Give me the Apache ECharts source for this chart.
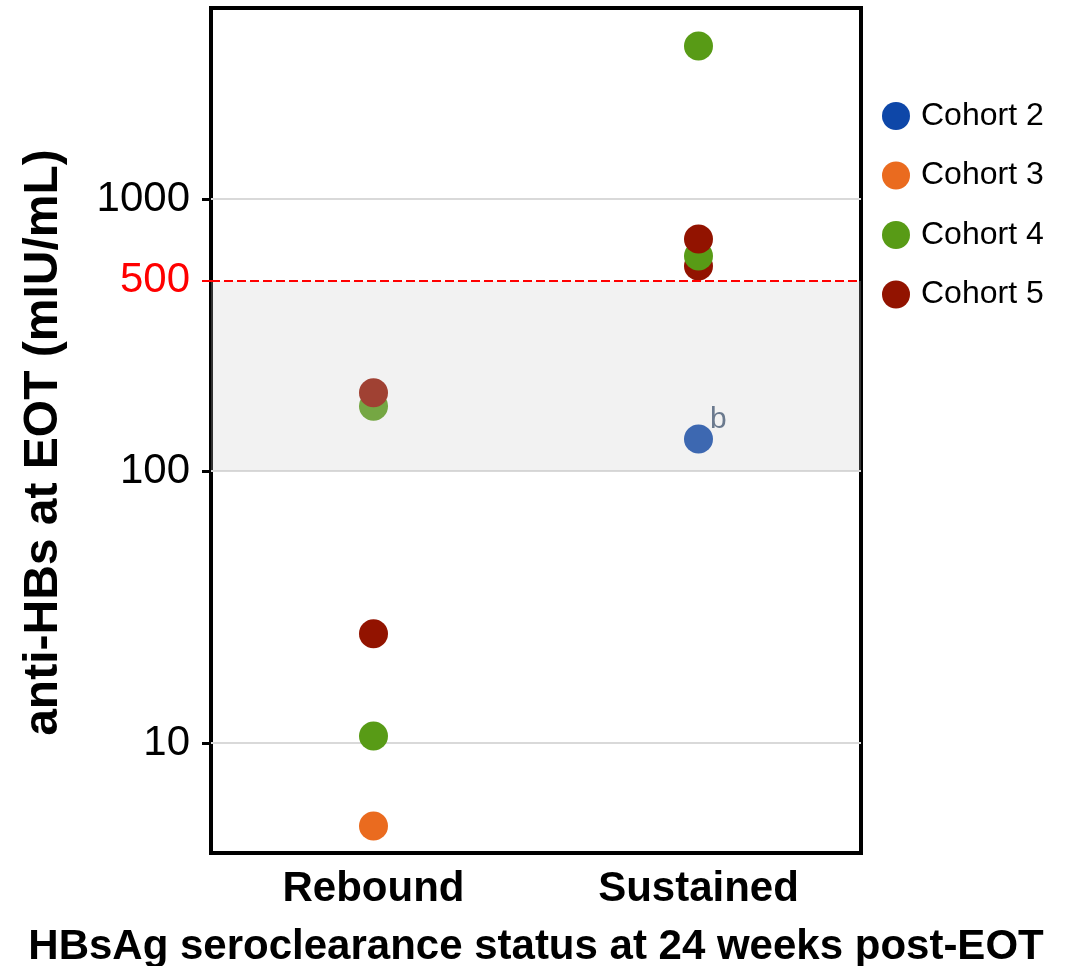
<!DOCTYPE html>
<html>
<head>
<meta charset="utf-8">
<title>anti-HBs at EOT</title>
<script src="https://cdn.jsdelivr.net/npm/echarts@6/dist/echarts.min.js"></script>
<style>
  html, body { margin: 0; padding: 0; background: #fff; }
  #chart { width: 1076px; height: 966px; }
</style>
</head>
<body>
<div id="chart"></div>
<script>
// categories and cohorts
const statuses = ['Rebound', 'Sustained']
const cohorts = ['Cohort 2', 'Cohort 3', 'Cohort 4', 'Cohort 5']
const cohortColors = ['#0e47a8', '#ea6b1f', '#589b16', '#921300']

// one entry per participant, in drawing order
const pointCohort = ['Cohort 4', 'Cohort 4', 'Cohort 3', 'Cohort 5', 'Cohort 4', 'Cohort 4', 'Cohort 2', 'Cohort 5', 'Cohort 5', 'Cohort 5']
const pointStatus = ['Rebound', 'Rebound', 'Rebound', 'Sustained', 'Sustained', 'Sustained', 'Sustained', 'Rebound', 'Rebound', 'Sustained']
const pointValue = [173, 10.6, 4.95, 567, 3650, 617, 131, 194, 25.2, 713]
const pointNote = ['', '', '', '', '', '', 'b', '', '', '']

// y axis ticks and reference band
const yTicks = [10, 100, 1000]
const threshold = 500
const bandLow = 100

const font = 'Liberation Sans, Arial, Helvetica, sans-serif'

const chart = echarts.init(document.getElementById('chart'))

const pointData = pointValue.map((v, i) => {
  const item = {
    value: [pointStatus[i], v],
    itemStyle: { color: cohortColors[cohorts.indexOf(pointCohort[i])], opacity: 1 }
  }
  if (pointNote[i]) {
    item.label = {
      show: true,
      formatter: pointNote[i],
      position: [26, -20],
      align: 'left',
      verticalAlign: 'top',
      color: '#4b5f7a',
      fontSize: 30,
      fontFamily: font
    }
  }
  return item
})

const yBase = {
  type: 'log',
  logBase: 10,
  min: 3.94,
  max: 5040,
  position: 'left',
  axisLine: { show: false }
}

const option = {
  animation: false,
  grid: {
    left: 211,
    right: 215,
    top: 8,
    bottom: 113,
    outerBoundsMode: 'none',
    containLabel: false,
    show: true,
    borderColor: '#000',
    borderWidth: 4,
    backgroundColor: 'transparent'
  },
  legend: {
    data: cohorts,
    orient: 'vertical',
    left: 877,
    top: 95,
    icon: 'circle',
    itemWidth: 28,
    itemHeight: 28,
    itemGap: 27.5,
    itemStyle: { opacity: 1 },
    textStyle: {
      fontSize: 32,
      color: '#000',
      fontFamily: font,
      padding: [0, 0, 0, 6]
    }
  },
  xAxis: {
    type: 'category',
    data: statuses,
    axisLine: { show: false },
    axisTick: { show: false },
    splitLine: { show: false },
    axisLabel: {
      margin: 15,
      fontSize: 42,
      fontWeight: 'bold',
      color: '#000',
      fontFamily: font
    },
    name: 'HBsAg seroclearance status at 24 weeks post-EOT',
    nameLocation: 'middle',
    nameGap: 73,
    nameTextStyle: {
      fontSize: 42,
      fontWeight: 'bold',
      color: '#000',
      fontFamily: font
    }
  },
  yAxis: [
    Object.assign({}, yBase, {
      name: 'anti-HBs at EOT (mIU/mL)',
      nameLocation: 'middle',
      nameGap: 143,
      nameTextStyle: {
        fontSize: 48,
        fontWeight: 'bold',
        color: '#000',
        fontFamily: font,
        padding: [0, 24, 0, 0]
      },
      axisTick: {
        show: true,
        customValues: yTicks,
        length: 9,
        lineStyle: { color: '#000', width: 3 }
      },
      axisLabel: {
        customValues: yTicks,
        margin: 21,
        fontSize: 42,
        color: '#000',
        fontFamily: font,
        formatter: v => String(Math.round(v))
      },
      splitLine: {
        show: true,
        lineStyle: { color: '#d9d9d9', width: 2 }
      }
    }),
    Object.assign({}, yBase, {
      axisTick: {
        show: true,
        customValues: [threshold],
        length: 9,
        lineStyle: { color: '#ff0000', width: 2 }
      },
      axisLabel: {
        customValues: [threshold],
        margin: 21,
        fontSize: 42,
        color: '#ff0000',
        fontFamily: font,
        formatter: v => String(Math.round(v))
      },
      splitLine: { show: false }
    })
  ],
  series: [
    // legend entries
    ...cohorts.map((c, i) => ({
      type: 'scatter',
      name: c,
      data: [],
      symbolSize: 28,
      itemStyle: { color: cohortColors[i], opacity: 1 }
    })),
    {
      type: 'scatter',
      name: 'points',
      data: pointData,
      symbol: 'circle',
      symbolSize: 29,
      z: 2
    },
    {
      type: 'scatter',
      name: 'band',
      data: [],
      z: 3,
      silent: true,
      markArea: {
        silent: true,
        z: 3,
        itemStyle: { color: 'rgba(203,203,203,0.25)' },
        data: [[{ yAxis: bandLow }, { yAxis: threshold }]]
      },
      markLine: {
        silent: true,
        z: 4,
        symbol: 'none',
        label: { show: false },
        lineStyle: { color: '#ff0000', type: [9, 4], width: 2 },
        data: [{ yAxis: threshold }]
      }
    }
  ]
}

chart.setOption(option)
</script>
</body>
</html>
